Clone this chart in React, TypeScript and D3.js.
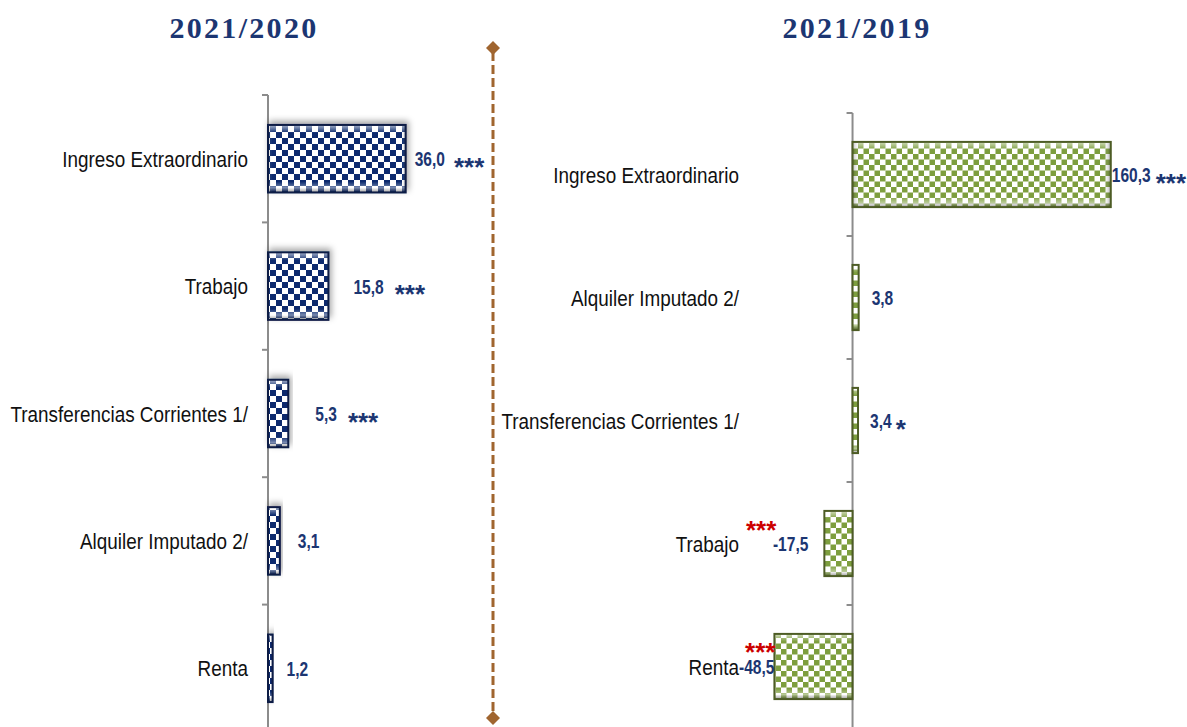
import React, { useEffect, useRef } from "react";
import * as d3 from "d3";

// Data
const titles = ["2021/2020", "2021/2019"];
const leftCategories = [
  "Ingreso Extraordinario",
  "Trabajo",
  "Transferencias Corrientes 1/",
  "Alquiler Imputado 2/",
  "Renta",
];
const leftValues = [36.0, 15.8, 5.3, 3.1, 1.2];
const leftStars = ["***", "***", "***", "", ""];

const rightCategories = [
  "Ingreso Extraordinario",
  "Alquiler Imputado 2/",
  "Transferencias Corrientes 1/",
  "Trabajo",
  "Renta",
];
const rightValues = [160.3, 3.8, 3.4, -17.5, -48.5];
const rightStars = ["***", "", "*", "***", "***"];

// label placement (layout only): value offset from bar end, star offset from value end
const leftValueDx = [9, 25, 27, 18, 14];
const leftStarDx = [9, 11, 11, 0, 0];
const leftStarDy = [17, 17, 17, 0, 0];
const rightValueDx = [1, 13, 12, -16, 0];
const rightStarDx = [5, 0, 4, -32, 1];
const rightStarDy = [17, 0, 17, -5, -6];

const W = 1187;
const H = 727;
const NAVY = "#1c3672";
const SANS = "'Liberation Sans', Arial, sans-serif";

const fmt = (v: number) => d3.format(".1f")(v).replace(".", ",").replace("\u2212", "-");

const App = () => {
  const svgRef = useRef<SVGSVGElement>(null);

  useEffect(() => {
    const svg = d3.select(svgRef.current);
    svg.selectAll("*").remove();

    const defs = svg.append("defs");

    const checker = (id: string, color: string, c: number) => {
      const p = defs
        .append("pattern")
        .attr("id", id)
        .attr("patternUnits", "userSpaceOnUse")
        .attr("width", 2 * c)
        .attr("height", 2 * c);
      p.append("rect").attr("width", 2 * c).attr("height", 2 * c).attr("fill", "#ffffff");
      p.append("rect").attr("width", c).attr("height", c).attr("fill", color);
      p.append("rect").attr("x", c).attr("y", c).attr("width", c).attr("height", c).attr("fill", color);
    };
    checker("checkNavy", "#0b2a6e", 6);
    checker("checkGreen", "#7d9e3e", 5.5);

    const vGrad = defs.append("linearGradient").attr("id", "bevelV").attr("x1", 0).attr("y1", 0).attr("x2", 0).attr("y2", 1);
    [
      [0, "#ffffff", 0.65],
      [0.12, "#ffffff", 0],
      [0.84, "#ffffff", 0],
      [0.93, "#ffffff", 0.45],
      [1, "#000000", 0.35],
    ].forEach(([o, c, a]) =>
      vGrad.append("stop").attr("offset", o as number).attr("stop-color", c as string).attr("stop-opacity", a as number)
    );
    const hGrad = defs.append("linearGradient").attr("id", "bevelH").attr("x1", 0).attr("y1", 0).attr("x2", 1).attr("y2", 0);
    [
      [0, "#000000", 0.25],
      [0.03, "#ffffff", 0],
      [0.97, "#ffffff", 0],
      [1, "#000000", 0.3],
    ].forEach(([o, c, a]) =>
      hGrad.append("stop").attr("offset", o as number).attr("stop-color", c as string).attr("stop-opacity", a as number)
    );

    const shadow = defs.append("filter").attr("id", "barShadow").attr("x", "-20%").attr("y", "-40%").attr("width", "140%").attr("height", "180%");
    shadow
      .append("feDropShadow")
      .attr("dx", 2)
      .attr("dy", -3)
      .attr("stdDeviation", 3)
      .attr("flood-color", "#000")
      .attr("flood-opacity", 0.35);

    // condensed text helper (squeezed horizontally to mimic a narrow face)
    const narrow = (
      g: d3.Selection<SVGGElement, unknown, null, undefined>,
      x: number,
      y: number,
      str: string,
      size: number,
      sx: number,
      weight: number,
      anchor: string,
      fill: string
    ) =>
      g
        .append("text")
        .attr("transform", `translate(${x},${y}) scale(${sx},1)`)
        .attr("dy", "0.36em")
        .attr("text-anchor", anchor)
        .style("font-family", SANS)
        .style("font-size", `${size}px`)
        .style("font-weight", weight)
        .style("fill", fill)
        .text(str);

    // Titles
    svg
      .append("g")
      .selectAll("text")
      .data(titles)
      .join("text")
      .attr("x", (_, i) => (i === 0 ? 244 : 857))
      .attr("y", 38)
      .attr("text-anchor", "middle")
      .style("font-family", "'Liberation Serif', serif")
      .style("font-weight", 700)
      .style("font-size", "30px")
      .style("letter-spacing", "2.3px")
      .style("fill", NAVY)
      .text((d) => d);

    // Divider
    const div = svg.append("g");
    div
      .append("line")
      .attr("x1", 493)
      .attr("x2", 493)
      .attr("y1", 52)
      .attr("y2", 714)
      .attr("stroke", "#a0652f")
      .attr("stroke-width", 3)
      .attr("stroke-dasharray", "9,4");
    [48, 718].forEach((cy) =>
      div
        .append("path")
        .attr("d", `M493,${cy - 7}L500,${cy}L493,${cy + 7}L486,${cy}Z`)
        .attr("fill", "#a0652f")
    );

    const drawPanel = (opts: {
      cats: string[];
      values: number[];
      stars: string[];
      dx: number[];
      starDx: number[];
      starDy: number[];
      x: d3.ScaleLinear<number, number>;
      yRange: [number, number];
      labelX: number;
      fill: string;
      stroke: string;
      shadow: boolean;
    }) => {
      const { cats, values, stars, dx, starDx, starDy, x, yRange, labelX, fill, stroke } = opts;
      const y = d3
        .scaleBand<string>()
        .domain(cats)
        .range(yRange)
        .paddingInner(0.47)
        .paddingOuter(0.235);
      const step = y.step();
      const y0 = y(cats[0])! - y.paddingOuter() * step;
      const g = svg.append("g");
      const x0 = x(0);

      // Axis line and ticks at band boundaries
      g.append("line")
        .attr("x1", x0)
        .attr("x2", x0)
        .attr("y1", y0)
        .attr("y2", H)
        .attr("stroke", "#8c8c8c")
        .attr("stroke-width", 2);
      g.selectAll("line.tick")
        .data(d3.range(cats.length + 1))
        .join("line")
        .attr("class", "tick")
        .attr("x1", x0 - 6)
        .attr("x2", x0)
        .attr("y1", (i) => y0 + i * step)
        .attr("y2", (i) => y0 + i * step)
        .attr("stroke", "#8c8c8c")
        .attr("stroke-width", 2);

      // Category labels
      cats.forEach((c) => {
        narrow(g, labelX, y(c)! + y.bandwidth() / 2, c, 22.5, 0.84, 400, "end", "#111");
      });

      // Bars
      const bars = g
        .selectAll("g.bar")
        .data(values)
        .join("g")
        .attr("class", "bar")
        .attr("filter", opts.shadow ? "url(#barShadow)" : null);
      const bx = (v: number) => Math.min(x(v), x0);
      const bw = (v: number) => Math.max(Math.abs(x(v) - x0), 4);
      ["fill", "bevelV", "bevelH"].forEach((layer) => {
        const r = bars
          .append("rect")
          .attr("x", (v) => bx(v))
          .attr("y", (_, i) => y(cats[i])!)
          .attr("width", (v) => bw(v))
          .attr("height", y.bandwidth())
          .attr("fill", `url(#${layer === "fill" ? fill : layer})`);
        if (layer === "bevelH") r.attr("stroke", stroke).attr("stroke-width", 2);
      });

      // Value labels and significance stars
      values.forEach((v, i) => {
        const cy = y(cats[i])! + y.bandwidth() / 2;
        const neg = v < 0;
        const tx = x(v) + dx[i];
        const sx = 0.74;
        const t = narrow(g, tx, cy, fmt(v), 21, sx, 700, neg ? "end" : "start", NAVY);
        if (!stars[i]) return;
        const tw = (t.node() as SVGTextElement).getComputedTextLength() * sx;
        const textEnd = neg ? tx : tx + tw;
        g.append("text")
          .attr("x", textEnd + starDx[i])
          .attr("y", cy + starDy[i])
          .attr("text-anchor", neg ? "end" : "start")
          .style("font-family", SANS)
          .style("font-size", "26px")
          .style("font-weight", 700)
          .style("fill", neg ? "#cc0000" : NAVY)
          .text(stars[i]);
      });
    };

    drawPanel({
      cats: leftCategories,
      values: leftValues,
      stars: leftStars,
      dx: leftValueDx,
      starDx: leftStarDx,
      starDy: leftStarDy,
      x: d3.scaleLinear().domain([0, 40]).range([268, 421]),
      yRange: [95, 732],
      labelX: 248,
      fill: "checkNavy",
      stroke: "#0a1a45",
      shadow: true,
    });

    drawPanel({
      cats: rightCategories,
      values: rightValues,
      stars: rightStars,
      dx: rightValueDx,
      starDx: rightStarDx,
      starDy: rightStarDy,
      x: d3.scaleLinear().domain([-50, 170]).range([772, 1126.4]),
      yRange: [113, 728],
      labelX: 739,
      fill: "checkGreen",
      stroke: "#4d5c25",
      shadow: false,
    });
  }, []);

  return (
    <svg
      ref={svgRef}
      width={W}
      height={H}
      style={{ position: "absolute", left: 0, top: 0, background: "#fff" }}
    ></svg>
  );
};

export default App;
